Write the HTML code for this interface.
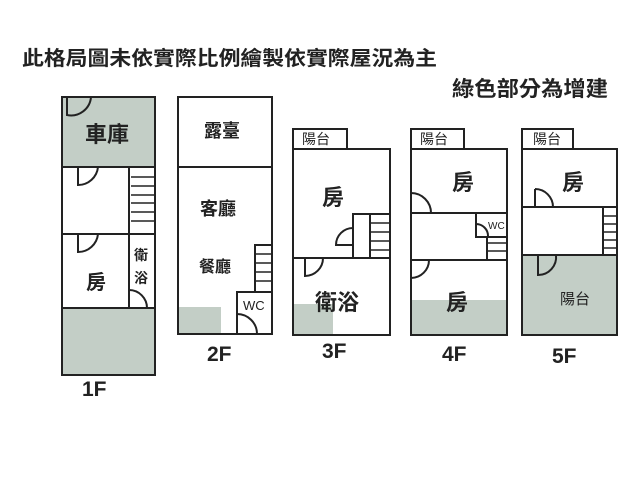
<!DOCTYPE html>
<html><head><meta charset="utf-8"><style>
html,body{margin:0;padding:0;background:#fff;}
svg{display:block;}
text{font-family:"Liberation Sans","Noto Sans CJK TC",sans-serif;fill:#222;}
</style></head><body>
<svg width="640" height="480" viewBox="0 0 640 480" xmlns="http://www.w3.org/2000/svg">
<g font-weight="bold">
<text x="22" y="65" font-size="20" textLength="415" lengthAdjust="spacingAndGlyphs">此格局圖未依實際比例繪製依實際屋況為主</text>
<text x="452" y="96" font-size="21" textLength="156" lengthAdjust="spacingAndGlyphs">綠色部分為增建</text>
</g>
<g fill="#c3cec6">
<rect x="62" y="97" width="93" height="70"/>
<rect x="62" y="308" width="93" height="67"/>
<rect x="178" y="307" width="43" height="27"/>
<rect x="293" y="304" width="40" height="31"/>
<rect x="411" y="300" width="96" height="35"/>
<rect x="522" y="255" width="95" height="80"/>
</g>
<g fill="none" stroke="#222" stroke-width="2">
<!-- 1F -->
<rect x="62" y="97" width="93" height="278"/>
<line x1="62" y1="167" x2="155" y2="167"/>
<line x1="62" y1="234" x2="155" y2="234"/>
<line x1="62" y1="308" x2="155" y2="308"/>
<line x1="129" y1="167" x2="129" y2="308"/>
<path d="M67 97 V115 A20 20 0 0 0 91 97"/>
<path d="M78 167 V185 A20 20 0 0 0 98 167"/>
<path d="M78 234 V252 A20 20 0 0 0 98 234"/>
<path d="M129 290 A18 18 0 0 1 147 308"/>
<!-- 2F -->
<rect x="178" y="97" width="94" height="237"/>
<line x1="178" y1="167" x2="272" y2="167"/>
<rect x="255" y="245" width="17" height="47"/>
<rect x="237" y="292" width="35" height="42"/>
<path d="M237 314 A20 20 0 0 1 257 334"/>
<!-- 3F -->
<rect x="293" y="129" width="54" height="20"/>
<rect x="293" y="149" width="97" height="186"/>
<line x1="293" y1="258" x2="390" y2="258"/>
<rect x="353" y="214" width="37" height="44"/>
<line x1="370" y1="214" x2="370" y2="258"/>
<path d="M353 228 A17 17 0 0 0 336 245 H353"/>
<path d="M305 258 V276 A18 18 0 0 0 323 258"/>
<!-- 4F -->
<rect x="411" y="129" width="53" height="20"/>
<rect x="411" y="149" width="96" height="186"/>
<line x1="411" y1="213" x2="507" y2="213"/>
<line x1="411" y1="260" x2="507" y2="260"/>
<rect x="476" y="213" width="31" height="24"/>
<line x1="487" y1="237" x2="487" y2="260"/>
<path d="M411 193 A20 20 0 0 1 431 213"/>
<path d="M411 260 V278 A18 18 0 0 0 429 260"/>
<path d="M476 224 A12 12 0 0 1 488 236"/>
<!-- 5F -->
<rect x="522" y="129" width="51" height="20"/>
<rect x="522" y="149" width="95" height="186"/>
<line x1="522" y1="207" x2="617" y2="207"/>
<line x1="522" y1="255" x2="617" y2="255"/>
<line x1="603" y1="207" x2="603" y2="255"/>
<path d="M535 189 A18 18 0 0 1 553 207 M535 189 V207"/>
<path d="M538 255 V275 A18 18 0 0 0 556 255"/>
</g>
<g stroke="#222" stroke-width="1.5">
<line x1="131" y1="177" x2="155" y2="177"/><line x1="131" y1="186" x2="155" y2="186"/><line x1="131" y1="195" x2="155" y2="195"/><line x1="131" y1="203" x2="155" y2="203"/><line x1="131" y1="212" x2="155" y2="212"/><line x1="131" y1="221" x2="155" y2="221"/>
<line x1="255" y1="254" x2="272" y2="254"/><line x1="255" y1="263" x2="272" y2="263"/><line x1="255" y1="272" x2="272" y2="272"/><line x1="255" y1="281" x2="272" y2="281"/>
<line x1="370" y1="223" x2="390" y2="223"/><line x1="370" y1="232" x2="390" y2="232"/><line x1="370" y1="241" x2="390" y2="241"/><line x1="370" y1="250" x2="390" y2="250"/>
<line x1="487" y1="243" x2="507" y2="243"/><line x1="487" y1="251" x2="507" y2="251"/>
<line x1="603" y1="216" x2="617" y2="216"/><line x1="603" y1="224" x2="617" y2="224"/><line x1="603" y1="232" x2="617" y2="232"/><line x1="603" y1="240" x2="617" y2="240"/><line x1="603" y1="248" x2="617" y2="248"/>
</g>
<g font-weight="bold">
<text x="85" y="142" font-size="22">車庫</text>
<text x="86" y="289" font-size="20">房</text>
<text x="134" y="260" font-size="14">衛</text>
<text x="134" y="283" font-size="14">浴</text>
<text x="204" y="137" font-size="18">露臺</text>
<text x="200" y="215" font-size="18">客廳</text>
<text x="199" y="272" font-size="16">餐廳</text>
<text x="243" y="310" font-size="13" font-weight="normal">WC</text>
<text x="302" y="144" font-size="14" font-weight="normal">陽台</text>
<text x="322" y="205" font-size="22">房</text>
<text x="315" y="310" font-size="22">衛浴</text>
<text x="420" y="144" font-size="14" font-weight="normal">陽台</text>
<text x="452" y="190" font-size="22">房</text>
<text x="488" y="229" font-size="10" font-weight="normal">WC</text>
<text x="446" y="310" font-size="22">房</text>
<text x="533" y="144" font-size="14" font-weight="normal">陽台</text>
<text x="562" y="190" font-size="22">房</text>
<text x="560" y="304" font-size="15" font-weight="normal">陽台</text>
<text x="82" y="396" font-size="21">1F</text>
<text x="207" y="361" font-size="21">2F</text>
<text x="322" y="358" font-size="21">3F</text>
<text x="442" y="361" font-size="21">4F</text>
<text x="552" y="363" font-size="21">5F</text>
</g>
</svg>
</body></html>
